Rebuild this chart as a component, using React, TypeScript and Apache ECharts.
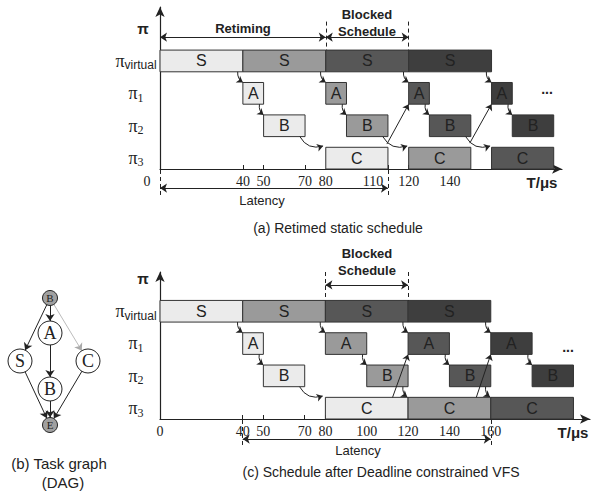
import React, { useEffect, useRef } from 'react';
import * as echarts from 'echarts';

// rows: 0 = π3, 1 = π2, 2 = π1, 3 = πvirtual
const ROW_SUBS = ['3', '2', '1', 'virtual'];
const ROW_LABEL_POS = [0.34, 1.34, 2.34, 3.34];
const SHADES = ['#ebebeb', '#9a9a9a', '#575757', '#3e3e3e'];
const BAR_H = 0.67;

// (a) Retimed static schedule: [start, end] per iteration
const aS = [[0, 40], [40, 80], [80, 120], [120, 160]];
const aA = [[40, 50], [80, 90], [120, 130], [160, 170]];
const aB = [[50, 70], [90, 110], [130, 150], [170, 190]];
const aC = [[80, 110], [120, 150], [160, 190]];
const aTicks = [0, 40, 50, 70, 80, 110, 120, 140];
// arrows [x1, y1, x2, y2, curveness]
const aArrows = [
  [37.5, 3, 40, 2.67, -0.3], [77.5, 3, 80, 2.67, -0.3], [117.5, 3, 120, 2.67, -0.3], [157.5, 3, 160, 2.67, -0.3],
  [48, 2, 50, 1.67, -0.3], [88, 2, 90, 1.67, -0.3], [128, 2, 130, 1.67, -0.3], [168, 2, 170, 1.67, -0.3],
  [67.5, 1, 78.7, 0.71, -0.4], [107.5, 1, 119.3, 0.71, -0.4], [147.5, 1, 159.3, 0.71, -0.4],
  [109.5, 0.77, 120, 2, 0], [149.5, 0.8, 160, 2, 0],
];
// spans [x1, x2, y] double-headed
const aSpans = [[0, 80, 4.07], [80, 120, 4.07], [0, 110, -0.59]];
// dashed guides [x, y1, y2]
const aGuides = [[80, 4.55, 3.67], [120, 4.55, 3.67], [0, -0.03, -0.85], [110, -0.03, -0.85]];

// (c) Schedule after deadline constrained VFS
const cS = [[0, 40], [40, 80], [80, 120], [120, 160]];
const cA = [[40, 50], [80, 100], [120, 140], [160, 180]];
const cB = [[50, 70], [100, 120], [140, 160], [180, 200]];
const cC = [[80, 120], [120, 160], [160, 200]];
const cTicks = [0, 40, 50, 70, 80, 100, 120, 140, 160];
const cArrows = [
  [37.5, 3, 40, 2.67, -0.3], [77.5, 3, 80, 2.67, -0.3], [117.5, 3, 120, 2.67, -0.3], [157.5, 3, 160, 2.67, -0.3],
  [48, 2, 50, 1.67, -0.3], [98, 2, 100, 1.67, -0.3], [138, 2, 140, 1.67, -0.3], [178, 2, 180, 1.67, -0.3],
  [67.5, 1, 78.7, 0.71, -0.4], [117.5, 1, 119.6, 0.68, -0.3], [157.5, 1, 159.6, 0.68, -0.3],
  [112.5, 0.67, 120, 2, 0], [153, 0.67, 160, 2, 0],
];
const cSpans = [[80, 120, 4.15], [40, 160, -0.62]];
const cGuides = [[80, 4.55, 3.67], [120, 4.55, 3.67], [40, -0.03, -0.85], [160, -0.03, -0.85]];

// (b) Task graph
const dagNodes = [
  { name: 'B0', label: 'B', x: 50, y: 298, small: true },
  { name: 'A', label: 'A', x: 50, y: 333, small: false },
  { name: 'S', label: 'S', x: 20, y: 361, small: false },
  { name: 'C', label: 'C', x: 88, y: 361, small: false },
  { name: 'B', label: 'B', x: 50, y: 389, small: false },
  { name: 'E', label: 'E', x: 50, y: 425, small: true },
];
const dagEdges = [
  ['B0', 'S'], ['B0', 'A'], ['B0', 'C'], ['A', 'B'], ['S', 'E'], ['B', 'E'], ['C', 'E'],
];

const INK = '#222';

function buildItems(S: number[][], A: number[][], B: number[][], C: number[][]) {
  const items: { row: number; s: number; e: number; t: string; k: number }[] = [];
  S.forEach((d, i) => items.push({ row: 3, s: d[0], e: d[1], t: 'S', k: i }));
  A.forEach((d, i) => items.push({ row: 2, s: d[0], e: d[1], t: 'A', k: i }));
  B.forEach((d, i) => items.push({ row: 1, s: d[0], e: d[1], t: 'B', k: i }));
  C.forEach((d, i) => items.push({ row: 0, s: d[0], e: d[1], t: 'C', k: i }));
  return items;
}

function barSeries(items: any[], idx: number) {
  return {
    type: 'custom',
    xAxisIndex: idx,
    yAxisIndex: idx,
    clip: false,
    z: 2,
    encode: { x: [1, 2], y: 0 },
    data: items.map((it) => [it.row, it.s, it.e]),
    renderItem: (params: any, api: any) => {
      const it = items[params.dataIndex];
      const p0 = api.coord([it.s, it.row + BAR_H]);
      const p1 = api.coord([it.e, it.row]);
      return {
        type: 'rect',
        shape: { x: p0[0], y: p0[1], width: p1[0] - p0[0], height: p1[1] - p0[1] },
        style: { fill: SHADES[it.k], stroke: '#333', lineWidth: 1 },
        textContent: {
          style: { text: it.t, fill: INK, fontSize: 16, fontFamily: 'Liberation Sans, Arial' },
        },
        textConfig: { position: 'inside' },
      };
    },
  };
}

function arrowSeries(arrows: number[][], idx: number) {
  return {
    type: 'lines',
    coordinateSystem: 'cartesian2d',
    xAxisIndex: idx,
    yAxisIndex: idx,
    clip: false,
    z: 5,
    symbol: ['none', 'arrow'],
    symbolSize: 6,
    lineStyle: { color: INK, width: 1, opacity: 1 },
    data: arrows.map((a) => ({
      coords: [[a[0], a[1]], [a[2], a[3]]],
      lineStyle: { curveness: a[4] },
    })),
  };
}

function spanSeries(spans: number[][], idx: number) {
  return {
    type: 'lines',
    coordinateSystem: 'cartesian2d',
    xAxisIndex: idx,
    yAxisIndex: idx,
    clip: false,
    z: 5,
    symbol: ['arrow', 'arrow'],
    symbolSize: 7,
    lineStyle: { color: INK, width: 1, opacity: 1, curveness: 0 },
    data: spans.map((s) => ({ coords: [[s[0], s[2]], [s[1], s[2]]] })),
  };
}

function guideSeries(guides: number[][], idx: number) {
  return {
    type: 'lines',
    coordinateSystem: 'cartesian2d',
    xAxisIndex: idx,
    yAxisIndex: idx,
    clip: false,
    z: 4,
    symbol: ['none', 'none'],
    lineStyle: { color: INK, width: 1, type: [4, 3], opacity: 1, curveness: 0 },
    data: guides.map((g) => ({ coords: [[g[0], g[1]], [g[0], g[2]]] })),
  };
}

const rowRich = {
  p: { fontFamily: 'Liberation Serif, serif', fontSize: 18, color: INK },
  v: { fontFamily: 'Liberation Sans, Arial', fontSize: 12, color: INK, padding: [9, 0, 0, 0] },
  n: { fontFamily: 'Liberation Serif, serif', fontSize: 12, color: INK, padding: [9, 0, 0, 0] },
};

const tickRich = {
  z: { fontFamily: 'Liberation Serif, serif', fontSize: 14, color: INK, padding: [0, 26, 6, 0] },
  l: { fontFamily: 'Liberation Serif, serif', fontSize: 14, color: INK, padding: [0, 30, 0, 0] },
};

function xAxisFor(idx: number, max: number, ticks: number[], shifted: number[]) {
  return {
    type: 'value',
    gridIndex: idx,
    min: 0,
    max,
    splitLine: { show: false },
    axisLine: { show: true, onZero: false, symbol: ['none', 'arrow'], symbolSize: [7, 10], lineStyle: { color: INK, width: 1.2 } },
    axisTick: { show: true, inside: true, length: 4, customValues: ticks.filter((t) => t > 0), lineStyle: { color: INK } },
    axisLabel: {
      customValues: ticks,
      margin: 5,
      color: INK,
      fontFamily: 'Liberation Serif, serif',
      fontSize: 14,
      formatter: (v: number) => {
        if (shifted.indexOf(v) < 0) return String(v);
        return v === 0 ? '{z|0}' : `{l|${v}}`;
      },
      rich: tickRich,
    },
  };
}

function yAxisFor(idx: number, max: number) {
  return {
    type: 'value',
    gridIndex: idx,
    min: 0,
    max,
    splitLine: { show: false },
    axisLine: { show: true, onZero: false, symbol: ['none', 'arrow'], symbolSize: [7, 10], lineStyle: { color: INK, width: 1.2 } },
    axisTick: { show: false },
    axisLabel: {
      customValues: ROW_LABEL_POS,
      margin: 24,
      align: 'center',
      formatter: (v: number) => {
        const r = Math.round(v - 0.34);
        return r === 3 ? '{p|π}{v|virtual}' : `{p|π}{n|${ROW_SUBS[r]}}`;
      },
      rich: rowRich,
    },
  };
}

function txt(x: number, y: number, text: string, size: number, bold = false, family = 'Liberation Sans, Arial') {
  return {
    type: 'text',
    x,
    y,
    silent: true,
    style: {
      text,
      fill: INK,
      fontSize: size,
      fontWeight: bold ? 'bold' : 'normal',
      fontFamily: family,
      textAlign: 'center',
      textVerticalAlign: 'middle',
    },
  };
}

export default function App() {
  const ref = useRef<HTMLDivElement>(null);
  useEffect(() => {
    if (!ref.current) return;
    const chart = echarts.init(ref.current, undefined, { renderer: 'svg' });
    const aItems = buildItems(aS, aA, aB, aC);
    const cItems = buildItems(cS, cA, cB, cC);
    const option: any = {
      animation: false,
      backgroundColor: '#ffffff',
      grid: [
        { left: 160, top: 7, width: 402, height: 162, containLabel: false },
        { left: 160, top: 272, width: 430, height: 147, containLabel: false },
      ],
      xAxis: [xAxisFor(0, 194, aTicks, [0, 110]), xAxisFor(1, 208, cTicks, [])],
      yAxis: [yAxisFor(0, 5), yAxisFor(1, 4.55)],
      series: [
        barSeries(aItems, 0),
        barSeries(cItems, 1),
        arrowSeries(aArrows, 0),
        arrowSeries(cArrows, 1),
        spanSeries(aSpans, 0),
        spanSeries(cSpans, 1),
        guideSeries(aGuides, 0),
        guideSeries(cGuides, 1),
        {
          type: 'graph',
          layout: 'none',
          left: 20,
          top: 298,
          width: 68,
          height: 127,
          roam: false,
          edgeSymbol: ['none', 'arrow'],
          edgeSymbolSize: 7,
          lineStyle: { color: INK, width: 1, opacity: 1, curveness: 0 },
          data: dagNodes.map((n) => ({
            name: n.name,
            x: n.x,
            y: n.y,
            symbol: 'circle',
            symbolSize: n.small ? 15 : 24,
            itemStyle: { color: n.small ? '#a0a0a0' : '#ffffff', borderColor: INK, borderWidth: 1 },
            label: {
              show: true,
              position: 'inside',
              formatter: n.label,
              color: INK,
              fontFamily: 'Liberation Serif, serif',
              fontSize: n.small ? 11 : 18,
            },
          })),
          links: dagEdges.map((e) => ({
            source: e[0],
            target: e[1],
            lineStyle: e[0] === 'B0' && e[1] === 'C' ? { color: '#aaaaaa', width: 0.8 } : undefined,
          })),
        },
      ],
      graphic: [
        // (a)
        txt(143, 28, 'π', 15, true),
        txt(243, 28, 'Retiming', 13, true),
        txt(367, 14, 'Blocked', 13, true),
        txt(367, 31, 'Schedule', 13, true),
        txt(547, 89, '...', 14, true),
        txt(542, 182, 'T/μs', 15, true),
        txt(262, 200, 'Latency', 13),
        txt(338, 228, '(a) Retimed static schedule', 14),
        // (c)
        txt(143, 278, 'π', 15, true),
        txt(367, 253, 'Blocked', 13, true),
        txt(367, 270, 'Schedule', 13, true),
        txt(568, 347, '...', 14, true),
        txt(573, 432, 'T/μs', 15, true),
        txt(358, 450, 'Latency', 13),
        txt(381, 472, '(c) Schedule after Deadline constrained VFS', 14),
        // (b)
        txt(59, 463, '(b) Task graph', 15),
        txt(63, 482, '(DAG)', 15),
      ],
    };
    chart.setOption(option);
    return () => chart.dispose();
  }, []);
  return <div ref={ref} style={{ width: 595, height: 491, position: 'absolute', left: 0, top: 0 }} />;
}
